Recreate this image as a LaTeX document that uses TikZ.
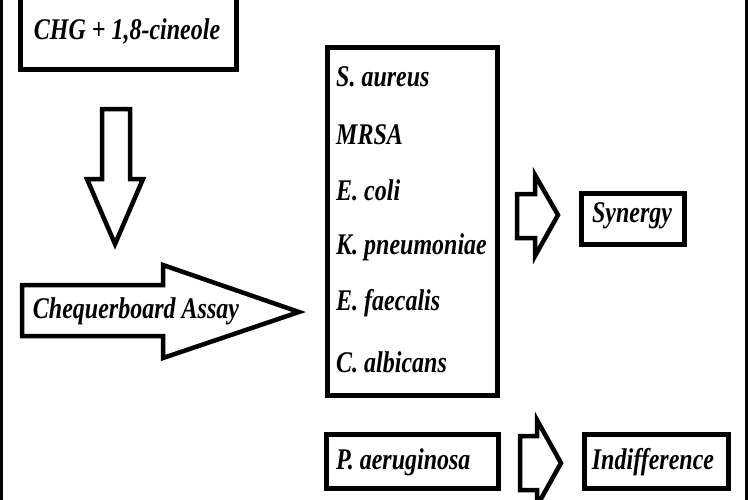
\documentclass[tikz,border=0pt]{standalone}
\usepackage{fontspec}
\setmainfont{Liberation Serif}
\usepackage{graphicx}
\newcommand\tx[1]{\scalebox{1}[1.25]{\bfseries\itshape #1}}
\begin{document}
\begin{tikzpicture}[x=1pt,y=-1pt,
  boxline/.style={draw=black,line width=5pt},
  blockarrow/.style={draw=black,line width=4.5pt,fill=white,line join=miter},
  lbl/.style={inner sep=0pt,font=\fontsize{24}{26}\selectfont},
  frame/.style={draw=black,line width=2.5pt}]
\useasboundingbox (0,0) rectangle (750,499);
\fill[white] (0,0) rectangle (750,499);
% outer side lines
\draw[frame] (1.5,-5) -- (1.5,505);
\draw[frame] (746.5,-5) -- (746.5,505);
% top box
\node[boxline,minimum width=216pt,minimum height=79pt,inner sep=0pt] (top) at (128,29.5) {};
\node[lbl] (toptext) at (127,31) {\tx{CHG + 1,8-cineole}};
% down arrow
\draw[blockarrow] (102,109) -- (130,109) -- (130,179) -- (143,179) -- (115,244) -- (87,179) -- (102,179) -- cycle;
% chequerboard arrow
\draw[blockarrow] (22,285) -- (163,285) -- (163,265) -- (299,312) -- (163,358) -- (163,336) -- (22,336) -- cycle;
\node[lbl] (assay) at (136,311) {\tx{Chequerboard Assay}};
% list box
\node[boxline,minimum width=170pt,minimum height=348pt,inner sep=0pt] (list) at (412,221) {};
\node[lbl,anchor=west] (s1) at (336,77) {\tx{S. aureus}};
\node[lbl,anchor=west] (s2) at (336,135) {\tx{MRSA}};
\node[lbl,anchor=west] (s3) at (336,190) {\tx{E. coli}};
\node[lbl,anchor=west] (s4) at (336,247) {\tx{K. pneumoniae}};
\node[lbl,anchor=west] (s5) at (336,303) {\tx{E. faecalis}};
\node[lbl,anchor=west] (s6) at (336,362) {\tx{C. albicans}};
% synergy arrow
\draw[blockarrow] (517,194) -- (535,194) -- (535,175) -- (558,215) -- (535,256) -- (535,238) -- (517,238) -- cycle;
% synergy box
\node[boxline,minimum width=103pt,minimum height=51pt,inner sep=0pt] (syn) at (632.5,218.5) {};
\node[lbl] (syntext) at (632,216) {\tx{Synergy}};
% P. aeruginosa box
\node[boxline,minimum width=172pt,minimum height=54pt,inner sep=0pt] (pa) at (412,461) {};
\node[lbl,anchor=west] (patext) at (336,462) {\tx{P. aeruginosa}};
% indifference arrow
\draw[blockarrow] (520,436) -- (537,436) -- (537,420) -- (561,463) -- (537,506) -- (537,490) -- (520,490) -- cycle;
% indifference box
\node[boxline,minimum width=144pt,minimum height=54pt,inner sep=0pt] (ind) at (656,461) {};
\node[lbl] (indtext) at (653,462) {\tx{Indifference}};
\end{tikzpicture}
\end{document}
